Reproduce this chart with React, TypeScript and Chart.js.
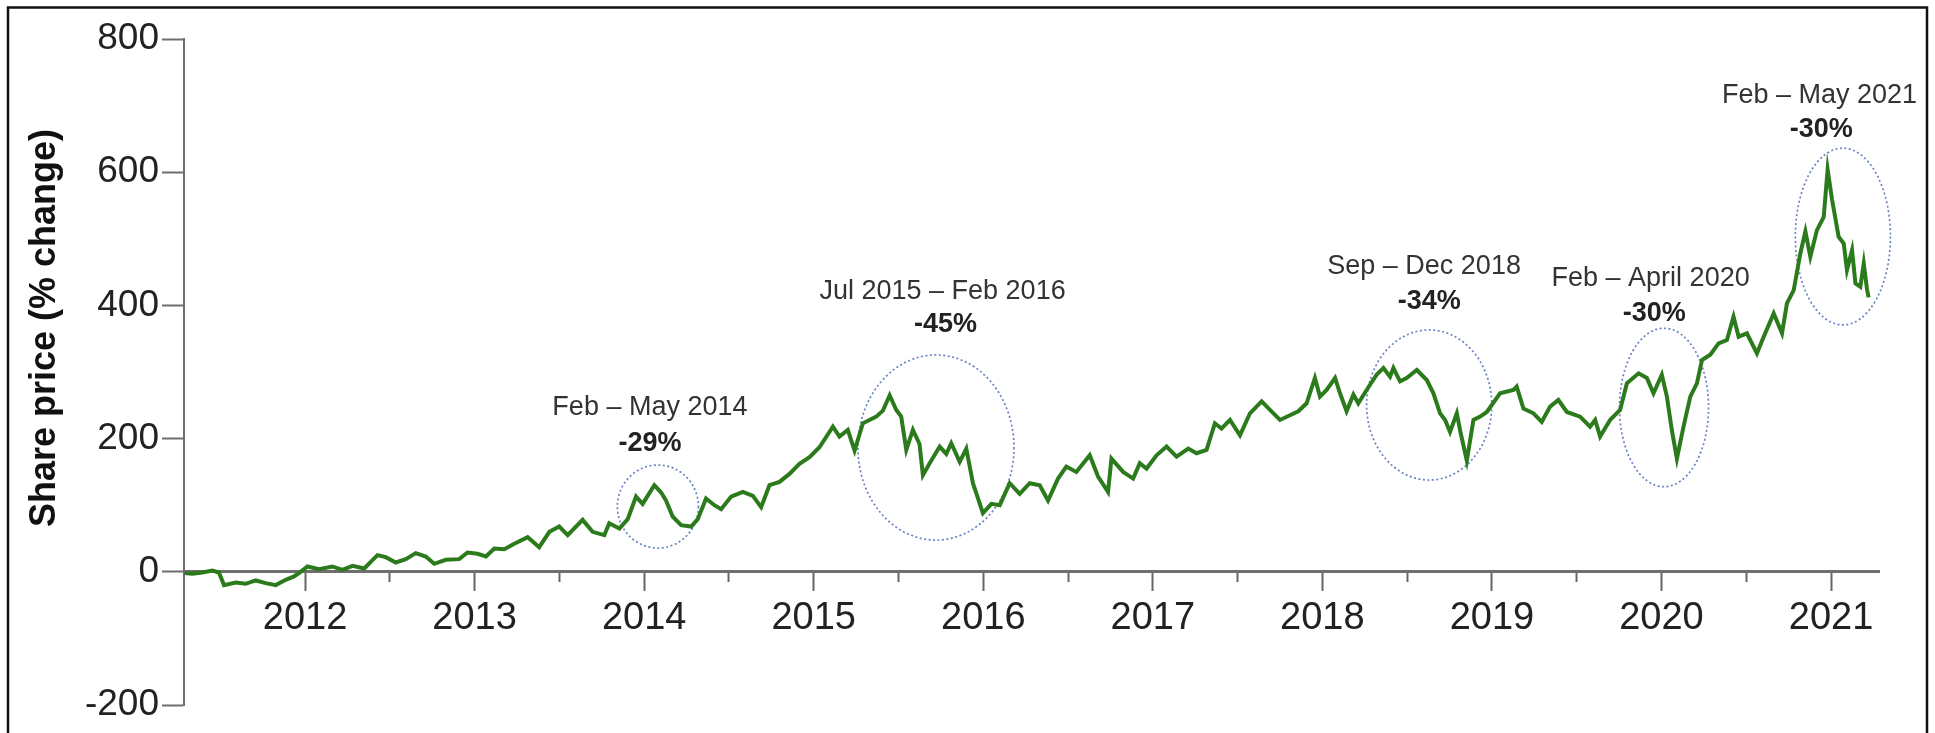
import React, { useEffect, useRef } from "react";
import { Chart, registerables } from "chart.js";

Chart.register(...registerables);

// ---- data (decimal year, % change) ----
const dates: number[] = [
  2011.29, 2011.335, 2011.394, 2011.453, 2011.492, 2011.522, 2011.591, 2011.65, 2011.709, 2011.768,
  2011.827, 2011.886, 2011.935, 2011.974, 2012.014, 2012.083, 2012.161, 2012.22, 2012.28, 2012.349,
  2012.427, 2012.476, 2012.535, 2012.594, 2012.653, 2012.712, 2012.762, 2012.83, 2012.909, 2012.958,
  2013.017, 2013.067, 2013.116, 2013.175, 2013.234, 2013.313, 2013.381, 2013.441, 2013.499, 2013.549,
  2013.637, 2013.696, 2013.765, 2013.794, 2013.854, 2013.903, 2013.952, 2013.991, 2014.06, 2014.1,
  2014.129, 2014.168, 2014.218, 2014.277, 2014.316, 2014.365, 2014.414, 2014.454, 2014.513, 2014.582,
  2014.641, 2014.69, 2014.739, 2014.798, 2014.857, 2014.916, 2014.975, 2015.034, 2015.113, 2015.152,
  2015.201, 2015.241, 2015.29, 2015.369, 2015.408, 2015.448, 2015.487, 2015.516, 2015.546, 2015.585,
  2015.624, 2015.644, 2015.684, 2015.743, 2015.782, 2015.811, 2015.861, 2015.9, 2015.939, 2015.998,
  2016.048, 2016.097, 2016.156, 2016.215, 2016.274, 2016.333, 2016.382, 2016.441, 2016.49, 2016.549,
  2016.628, 2016.677, 2016.736, 2016.756, 2016.825, 2016.884, 2016.923, 2016.963, 2017.022, 2017.081,
  2017.14, 2017.209, 2017.258, 2017.317, 2017.366, 2017.405, 2017.455, 2017.514, 2017.573, 2017.642,
  2017.691, 2017.75, 2017.809, 2017.858, 2017.907, 2017.956, 2017.986, 2018.025, 2018.075, 2018.104,
  2018.143, 2018.183, 2018.212, 2018.261, 2018.32, 2018.36, 2018.399, 2018.419, 2018.458, 2018.497,
  2018.557, 2018.616, 2018.655, 2018.694, 2018.724, 2018.753, 2018.793, 2018.816, 2018.852, 2018.891,
  2018.931, 2018.97, 2019.048, 2019.127, 2019.146, 2019.186, 2019.245, 2019.294, 2019.343, 2019.392,
  2019.442, 2019.52, 2019.579, 2019.609, 2019.638, 2019.697, 2019.756, 2019.796, 2019.865, 2019.914,
  2019.953, 2020.002, 2020.032, 2020.061, 2020.091, 2020.13, 2020.17, 2020.209, 2020.239, 2020.288,
  2020.337, 2020.386, 2020.425, 2020.455, 2020.504, 2020.563, 2020.603, 2020.662, 2020.711, 2020.74,
  2020.78, 2020.819, 2020.849, 2020.878, 2020.917, 2020.957, 2020.98, 2021.006, 2021.045, 2021.075,
  2021.094, 2021.124, 2021.144, 2021.173, 2021.193, 2021.213, 2021.222,
];

const values: number[] = [
  -2, -3, -1, 2, -1, -20, -16, -18, -13, -17,
  -20, -12, -7, 0, 8, 4, 8, 3, 9, 5,
  25, 22, 14, 19, 28, 23, 12, 18, 19, 29,
  27, 23, 35, 34, 42, 52, 37, 60, 68, 55,
  78, 60, 55, 73, 65, 79, 113, 102, 130, 119,
  107, 83, 70, 68, 79, 110, 100, 94, 113, 120,
  114, 97, 130, 135, 147, 162, 172, 187, 218, 203,
  213, 182, 223, 233, 242, 265, 243, 233, 183, 213,
  192, 145, 163, 188, 177, 193, 165, 185, 133, 88,
  102, 100, 133, 117, 133, 130, 107, 140, 158, 150,
  175, 143, 120, 170, 150, 140, 163, 155, 175, 188,
  173, 185, 178, 183, 223, 215, 228, 205, 238, 256,
  243, 228, 235, 241, 253, 291, 263, 273, 291, 268,
  241, 266, 253, 273, 296, 306, 293, 306, 286, 291,
  303, 288, 268, 238, 228, 210, 238, 208, 167, 228,
  233, 240, 268, 273, 278, 245, 238, 225, 248, 258,
  240, 233, 218, 228, 203, 228, 243, 283, 298, 291,
  268, 296, 263, 213, 170, 218, 263, 283, 318, 326,
  343, 348, 383, 353, 358, 328, 353, 388, 358, 403,
  423, 478, 511, 473, 513, 533, 604, 559, 503, 493,
  453, 483, 433, 428, 463, 423, 412,
];

const yearTicks: number[] = [2012, 2013, 2014, 2015, 2016, 2017, 2018, 2019, 2020, 2021];
const halfYearTicks: number[] = [2012.5, 2013.5, 2014.5, 2015.5, 2016.5, 2017.5, 2018.5, 2019.5, 2020.5];
const yTicks: number[] = [-200, 0, 200, 400, 600, 800];

const periodLabels: string[] = [
  "Feb \u2013 May 2014",
  "Jul 2015 \u2013 Feb 2016",
  "Sep \u2013 Dec 2018",
  "Feb \u2013 April 2020",
  "Feb \u2013 May 2021",
];
const periodDrops: string[] = ["-29%", "-45%", "-34%", "-30%", "-30%"];

const yTitle = "Share price (% change)";

// ---- annotation geometry (data units) ----
const ellipses = [
  { t: 2014.081, v: 98, rt: 0.239, rv: 62.4 },
  { t: 2015.721, v: 186.6, rt: 0.4604, rv: 139 },
  { t: 2018.63, v: 250.5, rt: 0.369, rv: 112.7 },
  { t: 2020.015, v: 246.7, rt: 0.2627, rv: 119 },
  { t: 2021.07, v: 503.4, rt: 0.2804, rv: 132.7 },
];
const labelPos = [
  { t1: 2014.034, v1: 246.7, t2: 2014.034, v2: 191.9 },
  { t1: 2015.76, v1: 420.7, t2: 2015.777, v2: 371.9 },
  { t1: 2018.6, v1: 458.3, t2: 2018.63, v2: 405.7 },
  { t1: 2019.936, v1: 440.3, t2: 2019.957, v2: 388.3 },
  { t1: 2020.932, v1: 715.3, t2: 2020.943, v2: 663.7 },
];

const FONT = "'Liberation Sans', Arial, Helvetica, sans-serif";
const X_MIN = 2011.286;
const X_MAX = 2021.283;

const ellipsePlugin = {
  id: "ellipses",
  beforeDatasetsDraw(chart: any) {
    const ctx = chart.ctx;
    const xs = chart.scales.x;
    const ys = chart.scales.y;
    ctx.save();
    ctx.strokeStyle = "#6a82c4";
    ctx.lineWidth = 1.7;
    ctx.setLineDash([2, 2.5]);
    for (const e of ellipses) {
      const cx = xs.getPixelForValue(e.t);
      const cy = ys.getPixelForValue(e.v);
      const rx = Math.abs(xs.getPixelForValue(e.t + e.rt) - cx);
      const ry = Math.abs(ys.getPixelForValue(e.v + e.rv) - cy);
      ctx.beginPath();
      ctx.ellipse(cx, cy, rx, ry, 0, 0, Math.PI * 2);
      ctx.stroke();
    }
    ctx.restore();
  },
};

const decorPlugin = {
  id: "decor",
  afterDraw(chart: any) {
    const ctx = chart.ctx;
    const xs = chart.scales.x;
    const ys = chart.scales.y;
    ctx.save();
    ctx.textAlign = "center";
    ctx.textBaseline = "middle";
    periodLabels.forEach((txt, i) => {
      const p = labelPos[i];
      ctx.font = `27px ${FONT}`;
      ctx.fillStyle = "#333";
      ctx.fillText(txt, xs.getPixelForValue(p.t1), ys.getPixelForValue(p.v1));
      ctx.font = `bold 27px ${FONT}`;
      ctx.fillStyle = "#222";
      ctx.fillText(periodDrops[i], xs.getPixelForValue(p.t2), ys.getPixelForValue(p.v2));
    });
    // y axis title
    ctx.save();
    ctx.translate(45, 328);
    ctx.rotate(-Math.PI / 2);
    ctx.font = `bold 36px ${FONT}`;
    ctx.fillStyle = "#111";
    ctx.fillText(yTitle, 0, 0);
    ctx.restore();
    // frame
    ctx.strokeStyle = "#111";
    ctx.lineWidth = 2.5;
    ctx.strokeRect(8, 7.5, 1919, 900);
    ctx.restore();
  },
};

export default function App() {
  const canvasRef = useRef<HTMLCanvasElement | null>(null);

  useEffect(() => {
    if (!canvasRef.current) return;
    Chart.defaults.font.family = FONT;
    const points = dates.map((d, i) => ({ x: d, y: values[i] }));
    const chart = new Chart(canvasRef.current, {
      type: "line",
      data: {
        datasets: [
          {
            data: points,
            borderColor: "#2b7a1b",
            borderWidth: 4,
            pointRadius: 0,
            tension: 0,
            fill: false,
          },
        ],
      },
      options: {
        animation: false,
        responsive: false,
        parsing: false as any,
        layout: { padding: { left: 0, top: 39, right: 56, bottom: 28 } },
        plugins: { legend: { display: false }, tooltip: { enabled: false }, title: { display: false } },
        scales: {
          x: {
            type: "linear",
            min: X_MIN,
            max: X_MAX,
            position: { y: 0 } as any,
            afterBuildTicks: (s: any) => {
              s.ticks = yearTicks.map((v) => ({ value: v }));
            },
            afterFit: (s: any) => {
              s.height = 0;
            },
            ticks: {
              autoSkip: false,
              maxRotation: 0,
              minRotation: 0,
              padding: 6,
              color: "#222",
              font: { size: 38 },
              callback: (v: any) => String(v),
            },
            grid: { drawOnChartArea: false, drawTicks: true, tickLength: 18, tickWidth: 2, tickColor: "#666" },
            border: { display: true, color: "#6e6e6e", width: 3 },
          },
          xMinor: {
            type: "linear",
            axis: "x",
            min: X_MIN,
            max: X_MAX,
            position: { y: 0 } as any,
            afterBuildTicks: (s: any) => {
              s.ticks = halfYearTicks.map((v) => ({ value: v }));
            },
            afterFit: (s: any) => {
              s.height = 0;
            },
            ticks: { display: false },
            grid: { drawOnChartArea: false, drawTicks: true, tickLength: 10, tickWidth: 2, tickColor: "#666" },
            border: { display: false },
          } as any,
          y: {
            type: "linear",
            position: "left",
            min: -200,
            max: 800,
            afterBuildTicks: (s: any) => {
              s.ticks = yTicks.map((v) => ({ value: v }));
            },
            afterFit: (s: any) => {
              s.width = 184;
            },
            ticks: { padding: 3, color: "#222", font: { size: 37 }, callback: (v: any) => String(v) },
            grid: { drawOnChartArea: false, drawTicks: true, tickLength: 22, tickWidth: 2, tickColor: "#6e6e6e" },
            border: { display: true, color: "#6e6e6e", width: 2 },
          },
        },
      },
      plugins: [ellipsePlugin, decorPlugin],
    });
    return () => chart.destroy();
  }, []);

  return (
    <div style={{ position: "absolute", left: 0, top: 0, width: 1935, height: 733, background: "#fff" }}>
      <canvas ref={canvasRef} width={1935} height={733} style={{ width: 1935, height: 733, display: "block" }} />
    </div>
  );
}
